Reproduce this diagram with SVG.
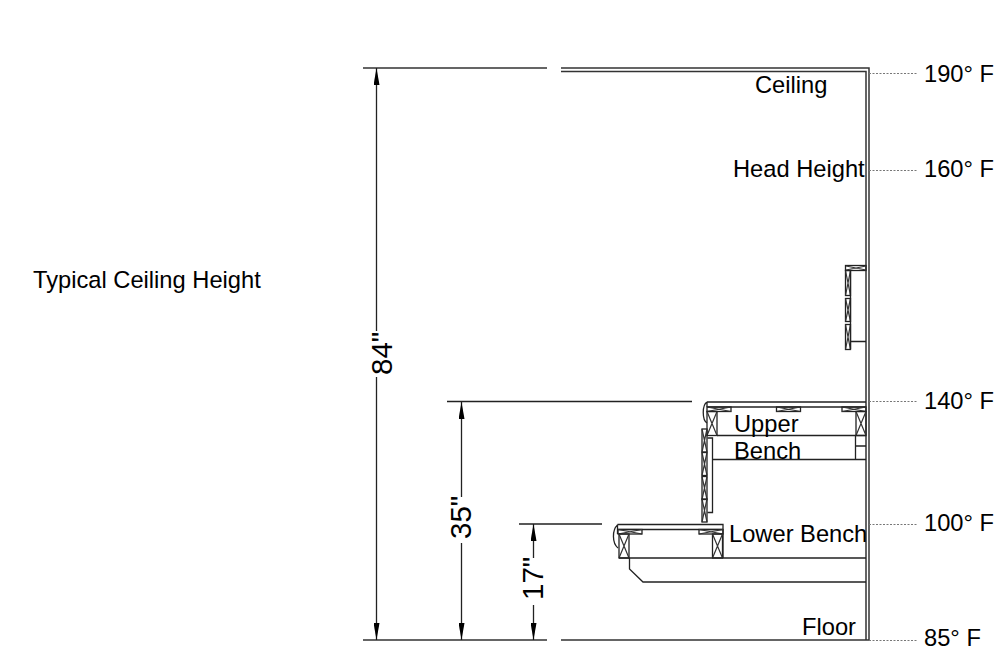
<svg xmlns="http://www.w3.org/2000/svg" width="1008" height="653" viewBox="0 0 1008 653">
<style>
text{font-family:"Liberation Sans",Arial,sans-serif;font-size:23.7px;fill:#000}
.dim{font-size:29.500px}
.l{fill:none;stroke:#222;stroke-width:1.3}
.w{fill:none;stroke:#333;stroke-width:1.5}
.d{fill:none;stroke:#777;stroke-width:1;stroke-dasharray:2 1.5}
.x{fill:none;stroke:#333;stroke-width:1.2}
</style>
<defs>
<marker id="a" viewBox="0 0 17 6" refX="17" refY="3" markerWidth="17" markerHeight="6" markerUnits="userSpaceOnUse" orient="auto-start-reverse"><path d="M17 3L0 6V0Z" fill="#000"/></marker>
<g id="xb"><rect width="10" height="24" class="l"/><path d="M0 0L10 24M10 0L0 24" class="x"/></g>
<g id="hb"><rect width="24" height="4.500" class="l"/><path d="M0 0L24 4.500M24 0L0 4.500" class="x"/></g>
<g id="vs"><rect width="5" height="23" class="l"/><path d="M0 0L5 23M5 0L0 23" class="x"/></g>
<g id="vl"><rect width="5" height="25" class="l"/><path d="M0 0L5 25M5 0L0 25" class="x"/></g>
</defs>
<g id="room">
<path class="w" d="M561 68H869V640M561 71.500H866V640M561 640H869M363 68H547M363 640H547"/>
</g>
<g id="vent">
<use href="#vl" x="845.500" y="270.500"/><use href="#vs" x="845.500" y="298.500"/><use href="#vl" x="845.500" y="324.500"/>
<rect class="l" x="845.500" y="265.500" width="20.500" height="5"/><path class="x" d="M846 266L866 270M866 266L846 270"/>
<path class="l" d="M850.500 270.500V349M850.500 341.500H866"/>
</g>
<g id="upper-bench">
<path class="l" d="M447 401.500H692M707 402H866M707 407H866"/>
<path class="l" d="M707 402V407M707 402C702 405 702 420 707 423"/>
<use href="#hb" x="707" y="407"/><use href="#hb" x="776.500" y="407"/><use href="#hb" x="842" y="407"/>
<use href="#xb" x="707" y="411.500"/><use href="#xb" x="856" y="411.500"/>
<path class="l" d="M717 435.500H866M712 459.500H866M855.500 435.500V459.500M856 446H866M707.500 438H712.500V512.500H707.500"/>
<use href="#vs" x="702" y="429"/><use href="#vs" x="702" y="452.500"/><use href="#vs" x="702" y="476.500"/><use href="#vs" x="702" y="499"/>
</g>
<g id="lower-bench">
<path class="l" d="M519 524H602M617.500 524.500H723V558M617.500 529.500H723M617.500 524.500V534M617.500 525C612 530 612 543 618 548"/>
<use href="#hb" x="618" y="529.500"/><use href="#hb" x="699" y="529.500"/>
<use href="#xb" x="619" y="534"/><use href="#xb" x="712.500" y="534"/>
<path class="l" d="M619 558H866M629.500 558V569L643 582H866"/>
</g>
<g id="connectors">
<path class="l" marker-start="url(#a)" d="M376.500 68V331"/>
<path class="l" marker-end="url(#a)" d="M376.500 377V640"/>
<path class="l" marker-start="url(#a)" d="M461.500 402V497"/>
<path class="l" marker-end="url(#a)" d="M461.500 543V640"/>
<path class="l" marker-start="url(#a)" d="M533.500 524V558"/>
<path class="l" marker-end="url(#a)" d="M533.500 605V640"/>
<path class="d" d="M869 73.500H918M869 170.500H918M869 401.500H918M869 524.500H918M869 640.500H918"/>
</g>
<g id="labels">
<text x="33" y="288">Typical Ceiling Height</text>
<text x="755" y="93">Ceiling</text>
<text x="733" y="177">Head Height</text>
<text x="734" y="432">Upper</text>
<text x="734" y="459">Bench</text>
<text x="729" y="542">Lower Bench</text>
<text x="802" y="635">Floor</text>
<text x="924" y="82">190° F</text>
<text x="924" y="177">160° F</text>
<text x="924" y="409">140° F</text>
<text x="924" y="531">100° F</text>
<text x="924" y="646">85° F</text>
<text class="dim" transform="translate(392 375) rotate(-90)">84"</text>
<text class="dim" transform="translate(471 539) rotate(-90)">35"</text>
<text class="dim" transform="translate(543 600) rotate(-90)">17"</text>
</g>
</svg>
